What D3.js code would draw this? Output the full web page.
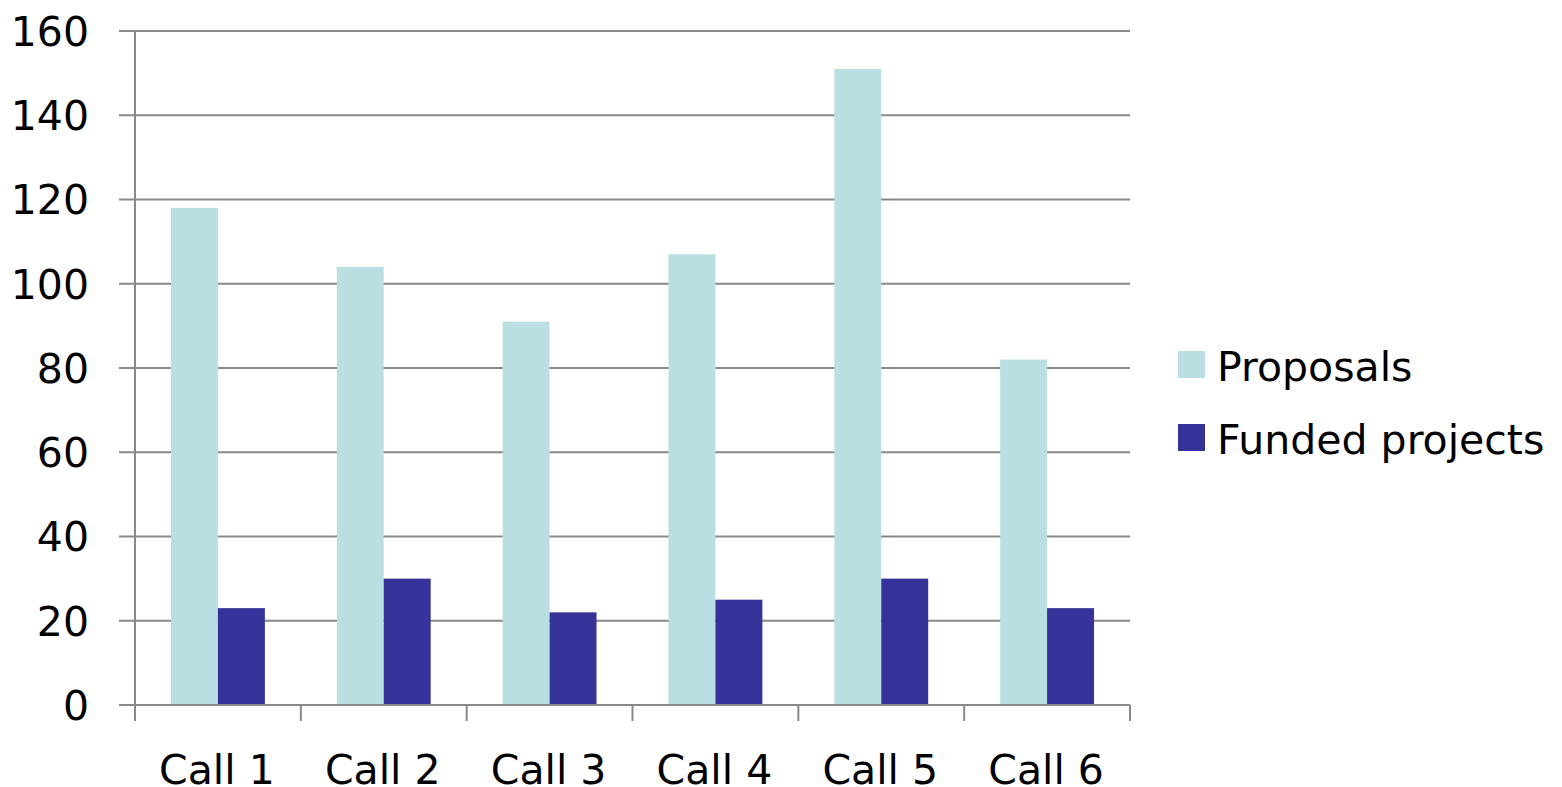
<!DOCTYPE html>
<html><head><meta charset="utf-8">
<script src="https://cdn.jsdelivr.net/npm/d3@7"></script>
<style>body{margin:0;background:#fff}svg{display:block}text{font-family:"DejaVu Sans",sans-serif;fill:#000}</style>
</head><body>
<svg id="c" width="1562" height="787"></svg>
<script>
const categories = ["Call 1","Call 2","Call 3","Call 4","Call 5","Call 6"];
const series = ["Proposals","Funded projects"];
const proposals = [118,104,91,107,151,82];
const funded = [23,30,22,25,30,23];
const yTicks = [0,20,40,60,80,100,120,140,160];
const colors = ["#B9DFE3","#353399"];

(function(){
const svg = d3.select("#c");
const mLeft = 135, mRight = 1130, mTop = 31, mBottom = 705;
const axisColor = "#898989";
const fs = 41;

const x0 = d3.scaleBand().domain(categories).range([mLeft, mRight]).paddingInner(0).paddingOuter(0);
const x1 = d3.scaleBand().domain(series).range([0, x0.bandwidth()]).paddingInner(0).paddingOuter(0.766);
const y = d3.scaleLinear().domain([0,160]).range([mBottom, mTop]);

svg.append("g").selectAll("line").data(yTicks).join("line")
  .attr("x1", mLeft-16).attr("x2", mRight)
  .attr("y1", d=>y(d)).attr("y2", d=>y(d))
  .attr("stroke", axisColor).attr("stroke-width", 2);

svg.append("g").selectAll("text").data(yTicks).join("text")
  .attr("x", 89).attr("y", d=>y(d)).attr("dy","0.36em")
  .attr("text-anchor","end").attr("font-size", fs).text(d=>d);

const data = categories.map((c,i)=>({c, vals:[proposals[i], funded[i]]}));
svg.append("g").selectAll("g").data(data).join("g")
  .attr("transform", d=>`translate(${x0(d.c)},0)`)
  .selectAll("rect").data(d=>d.vals.map((v,j)=>({s:series[j], v, j})))
  .join("rect")
  .attr("x", d=>x1(d.s)).attr("width", x1.bandwidth())
  .attr("y", d=>y(d.v)).attr("height", d=>y(0)-y(d.v))
  .attr("fill", d=>colors[d.j]);

svg.append("line").attr("x1", mLeft).attr("x2", mLeft).attr("y1", mTop).attr("y2", mBottom+16)
  .attr("stroke", axisColor).attr("stroke-width", 2);
svg.append("line").attr("x1", mLeft).attr("x2", mRight).attr("y1", mBottom).attr("y2", mBottom)
  .attr("stroke", axisColor).attr("stroke-width", 2);
const bounds = categories.map(c=>x0(c)).concat([mRight]);
svg.append("g").selectAll("line").data(bounds).join("line")
  .attr("x1", d=>d).attr("x2", d=>d).attr("y1", mBottom).attr("y2", mBottom+16)
  .attr("stroke", axisColor).attr("stroke-width", 2);

svg.append("g").selectAll("text").data(categories).join("text")
  .attr("x", d=>x0(d)+x0.bandwidth()/2 - 1).attr("y", 784)
  .attr("text-anchor","middle").attr("font-size", fs).text(d=>d);

const leg = svg.append("g").selectAll("g").data(series).join("g")
  .attr("transform", (d,i)=>`translate(1178,${351 + i*73})`);
leg.append("rect").attr("width",27).attr("height",27).attr("fill",(d,i)=>colors[i]);
leg.append("text").attr("x",39).attr("y",30).attr("font-size", fs).text(d=>d);
})();
</script>
</body></html>
